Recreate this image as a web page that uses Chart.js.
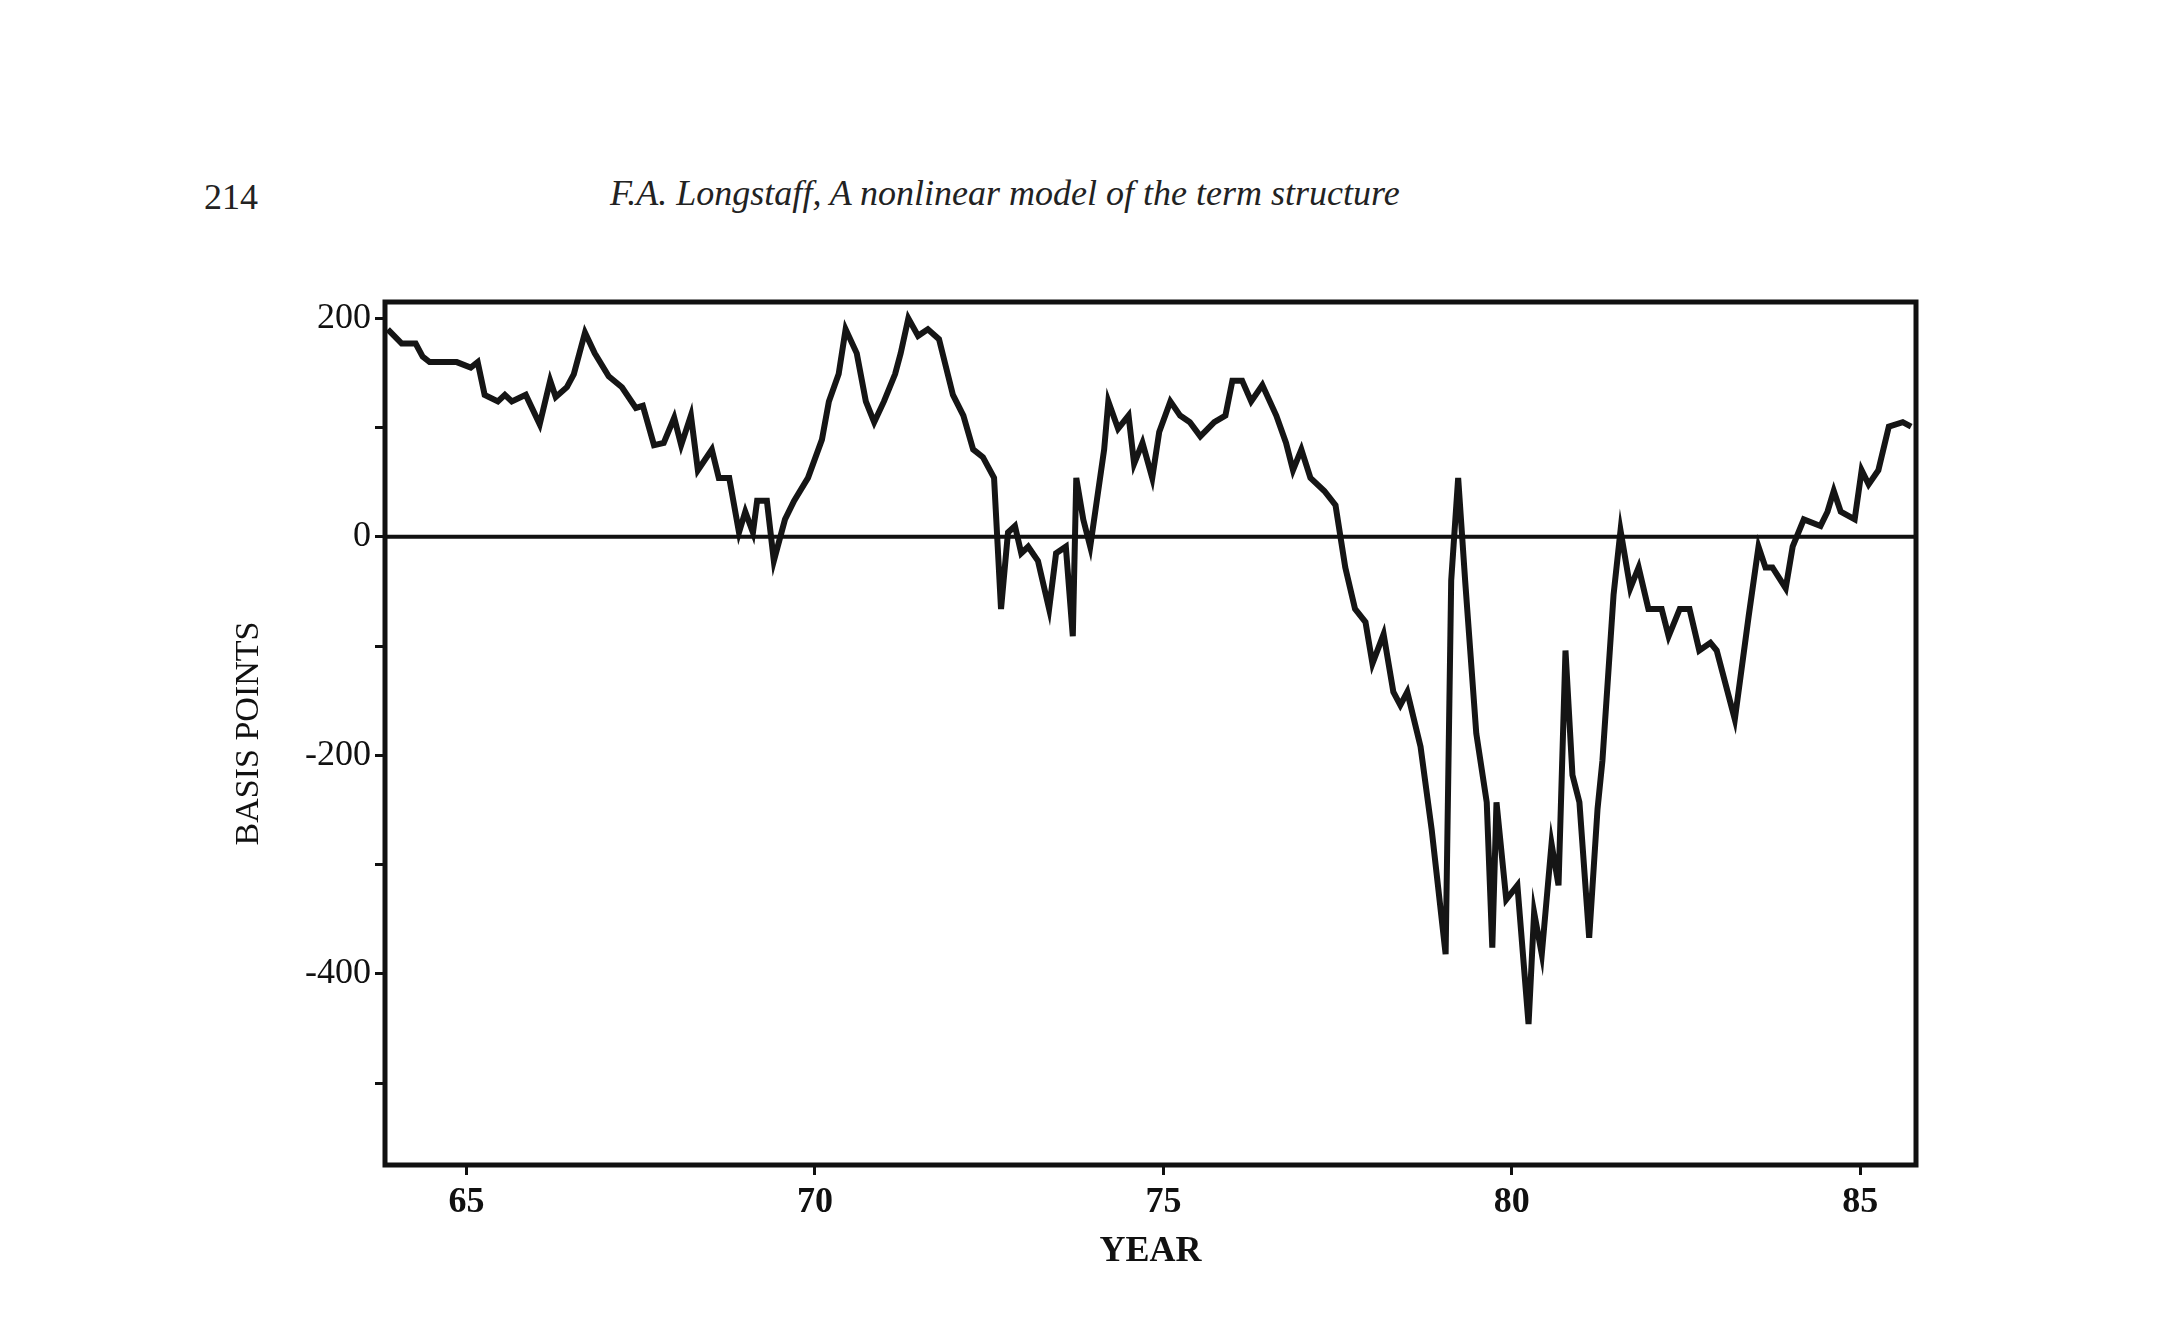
<!DOCTYPE html>
<html><head><meta charset="utf-8">
<script src="https://cdn.jsdelivr.net/npm/chart.js@4"></script>
<style>
html,body{margin:0;padding:0;background:#fff;width:2159px;height:1334px;overflow:hidden;}
#wrap{position:absolute;left:0;top:0;width:2159px;height:1334px;}
.hdr{position:absolute;font-family:"Liberation Serif","DejaVu Serif",serif;font-size:36px;color:#222;}
</style></head><body>
<div class="hdr" style="left:204px;top:176px;">214</div>
<div class="hdr" style="left:610px;top:172px;font-style:italic;">F.A. Longstaff, A nonlinear model of the term structure</div>
<div id="wrap"><canvas id="c" width="2159" height="1334"></canvas></div>
<script>
const years = [63.87,64.07,64.27,64.37,64.47,64.86,65.06,65.16,65.26,65.45,65.55,65.65,65.85,66.05,66.2,66.28,66.44,66.54,66.7,66.84,67.04,67.23,67.43,67.53,67.69,67.83,67.98,68.08,68.22,68.32,68.52,68.62,68.77,68.91,69.0,69.11,69.17,69.31,69.41,69.57,69.7,69.9,70.1,70.2,70.34,70.44,70.6,70.73,70.85,70.99,71.15,71.23,71.34,71.48,71.62,71.78,71.98,72.13,72.27,72.41,72.57,72.67,72.77,72.87,72.96,73.06,73.2,73.36,73.46,73.6,73.7,73.75,73.85,73.95,74.15,74.21,74.35,74.5,74.58,74.7,74.84,74.94,75.1,75.24,75.38,75.53,75.73,75.89,75.99,76.13,76.26,76.42,76.62,76.76,76.86,76.98,77.11,77.31,77.47,77.61,77.75,77.9,78.0,78.16,78.3,78.4,78.5,78.69,78.85,79.05,79.13,79.23,79.33,79.49,79.64,79.72,79.78,79.92,80.08,80.24,80.32,80.43,80.57,80.67,80.77,80.87,80.97,81.11,81.23,81.3,81.46,81.56,81.7,81.82,81.96,82.15,82.25,82.41,82.55,82.69,82.85,82.94,83.2,83.4,83.54,83.64,83.74,83.93,84.03,84.19,84.43,84.53,84.62,84.72,84.92,85.02,85.12,85.26,85.41,85.61,85.73];
const basisPoints = [190,177,177,165,160,160,155,160,130,124,130,124,130,103,143,128,137,149,187,168,147,137,118,120,84,86,109,84,111,61,80,54,54,4,23,4,33,33,-22,16,33,54,89,124,149,190,168,124,105,124,149,168,200,184,190,181,130,111,80,73,54,-66,4,10,-15,-9,-22,-66,-15,-9,-91,54,16,-9,80,124,99,111,67,86,54,96,124,111,105,92,105,111,143,143,124,139,111,86,61,80,54,42,29,-28,-66,-78,-116,-89,-142,-154,-142,-192,-268,-382,-40,54,-40,-180,-243,-376,-243,-332,-319,-446,-344,-382,-281,-319,-104,-218,-243,-367,-249,-205,-53,6,-47,-28,-66,-66,-91,-66,-66,-104,-97,-104,-167,-72,-9,-28,-28,-47,-9,16,10,23,42,23,16,61,48,61,101,105,101];
const yTickLabels = ['200','0','-200','-400'];
const xTickYears = [65,70,75,80,85];

const frame = {
  id:'frame',
  afterDatasetsDraw(chart){
    const {ctx, chartArea:a, scales} = chart;
    ctx.save();
    ctx.strokeStyle='#111'; ctx.lineWidth=5;
    ctx.strokeRect(a.left,a.top,a.right-a.left,a.bottom-a.top);
    const y0 = scales.y.getPixelForValue(0);
    ctx.lineWidth=4;
    ctx.beginPath(); ctx.moveTo(a.left,y0); ctx.lineTo(a.right,y0); ctx.stroke();
    ctx.restore();
  }
};
const serif = '"Liberation Serif","DejaVu Serif",serif';
new Chart(document.getElementById('c'), {
  type:'line',
  data:{datasets:[{data:years.map((x,i)=>({x, y:basisPoints[i]})),
    borderColor:'#151515', borderWidth:6, pointRadius:0, tension:0, fill:false}]},
  options:{
    responsive:false, animation:false,
    layout:{padding:{left:225,top:302,right:243,bottom:57}},
    plugins:{legend:{display:false},tooltip:{enabled:false}},
    scales:{
      x:{type:'linear', min:63.83, max:85.8,
        afterBuildTicks(s){ s.ticks = xTickYears.map(v=>({value:v})); },
        afterFit(s){ s.height = 112; },
        border:{display:false},
        grid:{drawOnChartArea:false, tickLength:10, color:'#111', lineWidth:3},
        ticks:{color:'#111', font:{family:serif,size:36,weight:'bold'}, padding:6, maxRotation:0,
          callback:v=>String(v)},
        title:{display:true,text:'YEAR',color:'#111',font:{family:serif,size:36,weight:'bold'},padding:{top:0}}
      },
      y:{min:-575, max:215,
        afterBuildTicks(s){ s.ticks = [200,100,0,-100,-200,-300,-400,-500].map(v=>({value:v})); },
        afterFit(s){ s.width = 160; },
        border:{display:false},
        grid:{drawOnChartArea:false, tickLength:10, color:'#111', lineWidth:3},
        ticks:{color:'#111', font:{family:serif,size:36}, padding:4,
          callback:v=>{const i=[200,0,-200,-400].indexOf(v); return i<0?'':yTickLabels[i];}},
        title:{display:true,text:'BASIS POINTS',color:'#111',font:{family:serif,size:34},padding:{bottom:0}}
      }
    }
  },
  plugins:[frame]
});
</script></body></html>
